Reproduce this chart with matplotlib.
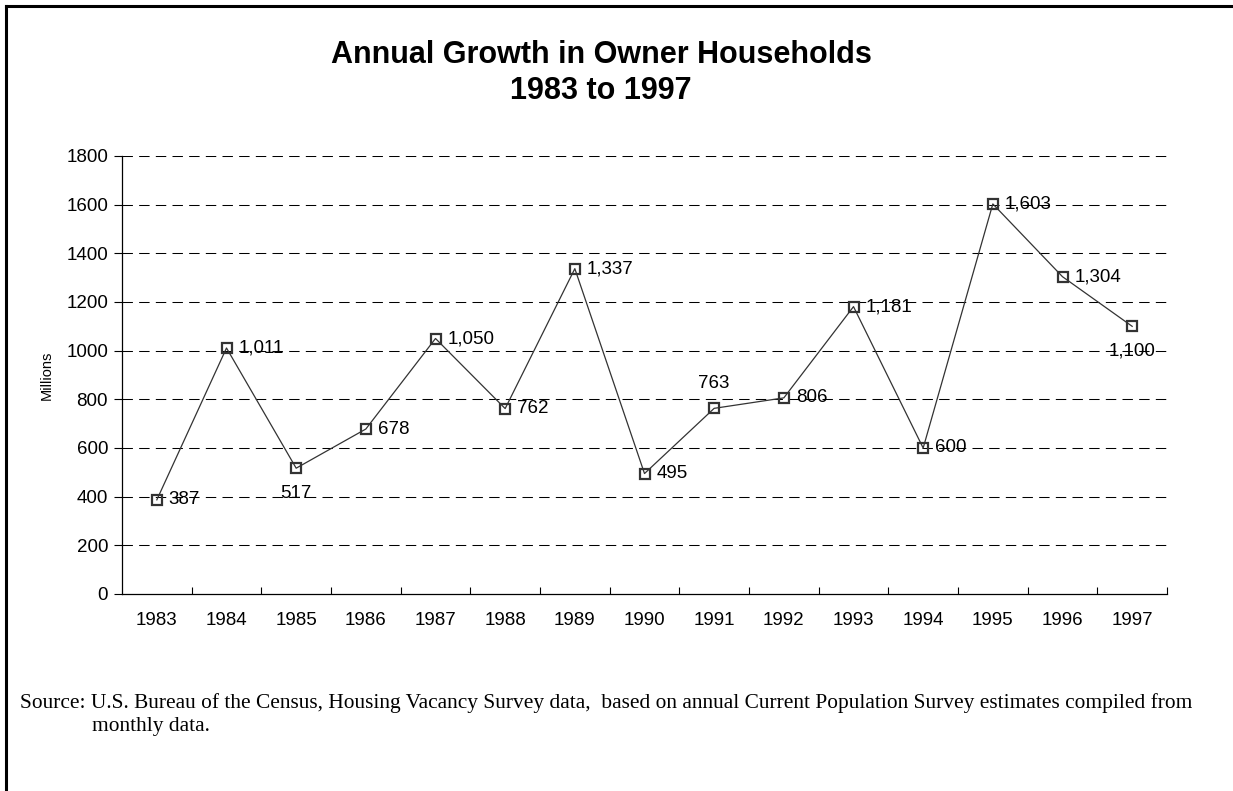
import numpy as np
import matplotlib
matplotlib.use('Agg')
import matplotlib.pyplot as plt
from matplotlib.lines import Line2D
from matplotlib.ticker import FixedLocator

years = ['1983', '1984', '1985', '1986', '1987', '1988', '1989', '1990',
         '1991', '1992', '1993', '1994', '1995', '1996', '1997']
growth = [387, 1011, 517, 678, 1050, 762, 1337, 495,
          763, 806, 1181, 600, 1603, 1304, 1100]
# where each value label sits relative to its marker
label_pos = ['right', 'right', 'below', 'right', 'right', 'right', 'right', 'right',
             'above', 'right', 'right', 'right', 'right', 'right', 'below']

plt.rcParams['font.family'] = ['Liberation Sans', 'DejaVu Sans']

W, H = 1233, 791
fig = plt.figure(figsize=(W / 100, H / 100), dpi=100)
fig.patch.set_facecolor('white')

# frame around the chart (runs off the right and bottom edges)
fig.add_artist(Line2D([6 / W, 1], [1 - 6 / H, 1 - 6 / H], color='black', lw=2.2))
fig.add_artist(Line2D([6 / W, 6 / W], [0, 1 - 6 / H], color='black', lw=2.2))

ax = fig.add_axes([122 / W, 1 - 594 / H, (1167 - 122) / W, (594 - 156) / H])
x = np.arange(len(years))

for y in range(200, 1801, 200):
    ax.axhline(y, color='black', lw=0.75, linestyle=(0, (10, 6)), zorder=1)

ax.plot(x, growth, color='#333333', lw=0.9, marker='s', markersize=7,
        markerfacecolor='none', markeredgecolor='#333333', markeredgewidth=1.6, zorder=3)

fs = 13.5
for xi, v, pos in zip(x, growth, label_pos):
    txt = f'{v:,}'
    if pos == 'right':
        ax.annotate(txt, (xi, v), xytext=(12, 0), textcoords='offset pixels',
                    ha='left', va='center', fontsize=fs)
    elif pos == 'below':
        ax.annotate(txt, (xi, v), xytext=(0, -25), textcoords='offset pixels',
                    ha='center', va='center', fontsize=fs)
    else:
        ax.annotate(txt, (xi, v), xytext=(0, 25), textcoords='offset pixels',
                    ha='center', va='center', fontsize=fs)

ax.set_xlim(-0.5, len(years) - 0.5)
ax.set_ylim(0, 1800)
ax.set_yticks(range(0, 1801, 200))
ax.set_xticks(x)
ax.set_xticklabels(years)
ax.xaxis.set_minor_locator(FixedLocator(np.arange(0.5, len(years), 1.0)))
ax.tick_params(axis='x', which='major', length=0, pad=13, labelsize=fs)
ax.tick_params(axis='x', which='minor', direction='in', length=5, width=0.8)
ax.tick_params(axis='y', direction='out', length=6, width=0.8, pad=4, labelsize=fs)

for s in ['top', 'right']:
    ax.spines[s].set_visible(False)
for s in ['left', 'bottom']:
    ax.spines[s].set_linewidth(0.9)

ax.set_ylabel('Millions', fontsize=10.5, labelpad=9)

fig.text(601 / W, 1 - 55 / H, 'Annual Growth in Owner Households',
         ha='center', va='center', fontsize=22, fontweight='bold')
fig.text(601 / W, 1 - 91 / H, '1983 to 1997',
         ha='center', va='center', fontsize=22, fontweight='bold')

fig.text(20 / W, 1 - 703 / H,
         'Source: U.S. Bureau of the Census, Housing Vacancy Survey data,  based on annual '
         'Current Population Survey estimates compiled from',
         ha='left', va='center', fontsize=15.4, family=['Liberation Serif'])
fig.text(92 / W, 1 - 727 / H, 'monthly data.',
         ha='left', va='center', fontsize=15.4, family=['Liberation Serif'])

fig.savefig('out.png', dpi=100, facecolor='white')
